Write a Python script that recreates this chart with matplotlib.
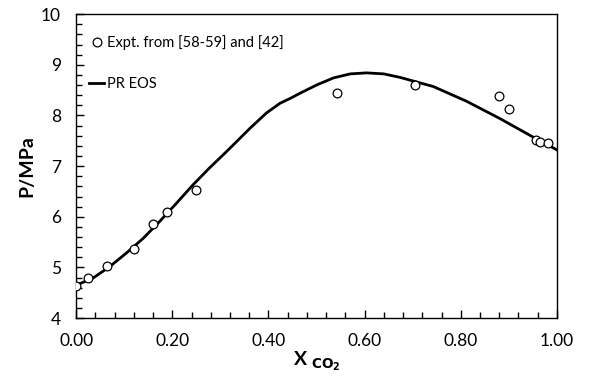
import numpy as np
import matplotlib
matplotlib.use("Agg")
import matplotlib.pyplot as plt
from matplotlib.ticker import MultipleLocator, FormatStrFormatter

plt.rcParams['font.family'] = ['Lato', 'DejaVu Sans']

# experimental points
x_expt = [0.00, 0.025, 0.065, 0.12, 0.16, 0.19, 0.25, 0.543, 0.705, 0.879, 0.900, 0.956, 0.965, 0.981]
p_expt = [4.64, 4.79, 5.02, 5.37, 5.86, 6.10, 6.52, 8.44, 8.61, 8.38, 8.12, 7.51, 7.47, 7.45]

# PR EOS curve
x_pr = [0.0, 0.035, 0.069, 0.104, 0.139, 0.173, 0.208, 0.243, 0.277, 0.312, 0.327,
        0.362, 0.396, 0.424, 0.446, 0.466, 0.500, 0.535, 0.570, 0.604, 0.640,
        0.674, 0.743, 0.812, 0.881, 0.951, 1.0]
p_pr = [4.65, 4.79, 5.01, 5.28, 5.57, 5.90, 6.26, 6.63, 6.96, 7.28, 7.42,
        7.75, 8.05, 8.24, 8.34, 8.44, 8.60, 8.74, 8.82, 8.84, 8.82,
        8.75, 8.57, 8.28, 7.94, 7.57, 7.32]

fig = plt.figure(figsize=(5.9, 3.81), dpi=100)
ax = fig.add_axes([0.129, 0.165, 0.815, 0.798])

ax.plot(x_expt, p_expt, 'o', mfc='white', mec='black', mew=0.9, ms=6.3,
        label='Expt. from [58-59] and [42]', zorder=3)
ax.plot(x_pr, p_pr, '-', color='black', lw=2, label='PR EOS', zorder=2)

ax.set_xlim(0, 1)
ax.set_ylim(4, 10)
ax.xaxis.set_major_locator(MultipleLocator(0.2))
ax.xaxis.set_minor_locator(MultipleLocator(0.04))
ax.yaxis.set_major_locator(MultipleLocator(1))
ax.yaxis.set_minor_locator(MultipleLocator(0.2))
ax.xaxis.set_major_formatter(FormatStrFormatter('%.2f'))
ax.tick_params(which='both', direction='in', labelsize=12.5, pad=11)
ax.tick_params(which='major', length=6, width=1)
ax.tick_params(which='minor', length=4, width=1)
for s in ax.spines.values():
    s.set_linewidth(1)

ax.set_ylabel('P/MPa', fontsize=14, fontweight='bold', labelpad=4)
ax.set_xlabel(r'X $_{\mathbf{CO_2}}$', fontsize=14, fontweight='bold', labelpad=0)

ax.legend(loc='upper left', frameon=False, fontsize=10.5, handlelength=1.0,
          handletextpad=0.2, labelspacing=1.9, borderaxespad=0.5,
          bbox_to_anchor=(0.0, 0.975))

fig.savefig('out.png', dpi=100)
